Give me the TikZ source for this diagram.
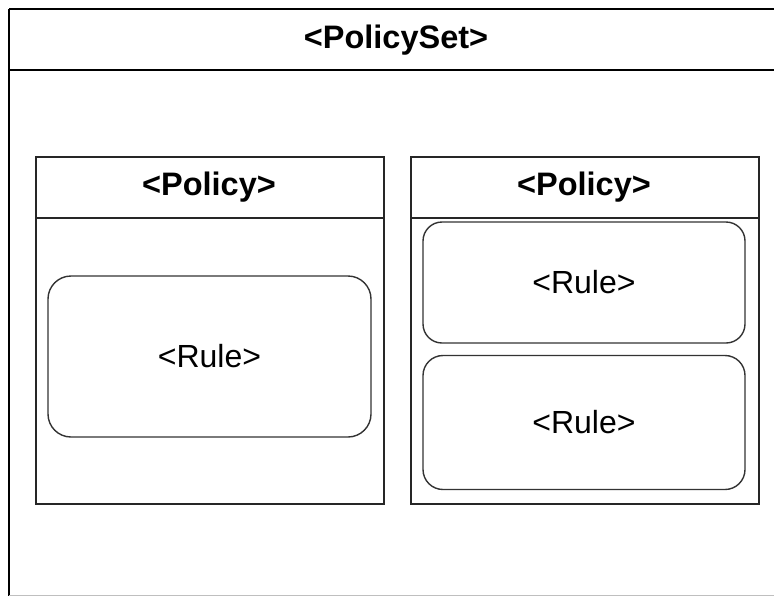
\documentclass[tikz,border=0pt]{standalone}
\usepackage{fontspec}
\setmainfont{Liberation Sans}
\begin{document}
\begin{tikzpicture}[x=1pt,y=-1pt,
  container/.style={draw=black!85, line width=1.6pt, rectangle, inner sep=0pt},
  rulebox/.style={draw=black!80, line width=1.4pt, rectangle, inner sep=0pt},
  headtext/.style={font=\fontsize{32.5}{38}\bfseries\selectfont, inner sep=0pt},
  ruletext/.style={font=\fontsize{32}{38}\selectfont, inner sep=0pt}]
  \useasboundingbox (0,0) rectangle (774,595);
  % outer policy set (extends past the right and bottom edges)
  \draw[line width=2pt] (9,70) -- (790,70);
  \draw[line width=2pt] (9,9) -- (790,9);
  \draw[line width=2pt] (9,9) -- (9,600);
  \draw[line width=1pt, black!25] (9,595) -- (790,595);
  \node[headtext] (ps) at (396,40) {<PolicySet>};

  % left policy
  \node[container, minimum width=348pt, minimum height=347pt, anchor=north west] (p1) at (35,156) {};
  \draw[line width=1.6pt, black!85] (35,218) -- (383,218);
  \node[headtext] (p1t) at (209,187) {<Policy>};
  \node[rulebox, rounded corners=23pt, minimum width=323pt, minimum height=161pt] (r1) at (209.5,356.5) {};
  \node[ruletext] at (r1) {<Rule>};

  % right policy
  \node[container, minimum width=348pt, minimum height=347pt, anchor=north west] (p2) at (410,156) {};
  \draw[line width=1.6pt, black!85] (410,218) -- (758,218);
  \node[headtext] (p2t) at (584,187) {<Policy>};
  \node[rulebox, rounded corners=19pt, minimum width=322pt, minimum height=121pt] (r2) at (584,282.5) {};
  \node[ruletext] at (r2) {<Rule>};
  \node[rulebox, rounded corners=20pt, minimum width=322pt, minimum height=134pt] (r3) at (584,422.5) {};
  \node[ruletext] at (r3) {<Rule>};
\end{tikzpicture}
\end{document}
